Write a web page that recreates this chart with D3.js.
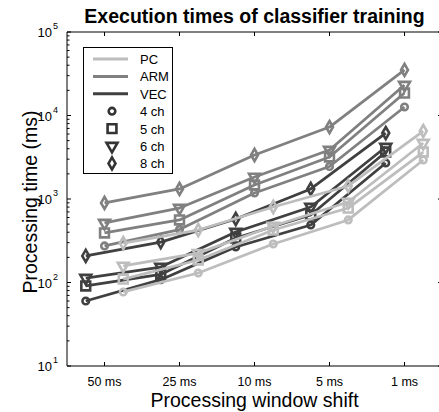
<!DOCTYPE html>
<html>
<head>
<meta charset="utf-8">
<script src="https://cdn.jsdelivr.net/npm/d3@7"></script>
<style>
  body { margin: 0; background: #fff; }
  text { font-family: "Liberation Sans", Arial, sans-serif; fill: #000; }
</style>
</head>
<body>
<svg id="chart"></svg>
<script>
// Categories (x axis)
const categories = ["50 ms", "25 ms", "10 ms", "5 ms", "1 ms"];
const channels = ["4 ch", "5 ch", "6 ch", "8 ch"];

// Execution times (ms), one array per platform / channel count
const pc4 = [77, 130, 289, 561, 2931];
const pc5 = [110, 186, 425, 780, 3654];
const pc6 = [158, 225, 475, 920, 4686];
const pc8 = [297, 425, 802, 1432, 6520];

const arm4 = [274, 430, 1180, 2450, 12640];
const arm5 = [392, 561, 1471, 3184, 18590];
const arm6 = [516, 780, 1835, 3862, 23190];
const arm8 = [896, 1318, 3365, 7280, 35080];

const vec4 = [60, 108, 266, 488, 2698];
const vec5 = [91, 125, 341, 643, 3654];
const vec6 = [113, 153, 402, 802, 4196];
const vec8 = [208, 305, 576, 1318, 6170];

const yTicks = [10, 100, 1000, 10000, 100000];

// platforms: shifted left/right of the category so markers don't overlap
const platforms = [
    { name: "VEC", color: "#404040", shift: -0.25, series: [vec4, vec5, vec6, vec8] },
    { name: "ARM", color: "#808080", shift: 0, series: [arm4, arm5, arm6, arm8] },
    { name: "PC", color: "#bdbdbd", shift: 0.25, series: [pc4, pc5, pc6, pc8] }
];

const width = 439;
const height = 412;
const margin = { top: 32, left: 67, bottom: 46 };

const svg = d3.select("#chart")
    .attr("width", width)
    .attr("height", height);

const x = d3.scaleLinear()
    .domain([0.5, categories.length + 0.5])
    .range([margin.left, 442]);

const y = d3.scaleLog()
    .domain([10, 100000])
    .range([height - margin.bottom, margin.top]);

const x0 = x.range()[0], x1 = x.range()[1];
const yB = y.range()[0], yT = y.range()[1];

// marker symbols per channel count
const symbols = [
    { type: d3.symbolCircle, size: 34, rot: 0 },
    { type: d3.symbolSquare, size: 78, rot: 0 },
    { type: d3.symbolTriangle, size: 52, rot: 180 },
    { type: d3.symbolDiamond, size: 42, rot: 0 }
];

// Title
svg.append("text")
    .attr("x", (x0 + x1) / 2)
    .attr("y", 23)
    .attr("text-anchor", "middle")
    .style("font-size", "19.5px")
    .style("font-weight", "bold")
    .text("Execution times of classifier training");

// Axis frame
const frame = svg.append("g").attr("stroke", "#000").attr("stroke-width", 1).attr("fill", "none");
frame.append("path").attr("d", `M${x0},${yT}H${x1}V${yB}H${x0}Z`);

// x ticks (inward, top and bottom)
categories.forEach((c, i) => {
    const px = x(i + 1);
    frame.append("line").attr("x1", px).attr("x2", px).attr("y1", yB).attr("y2", yB - 4);
    frame.append("line").attr("x1", px).attr("x2", px).attr("y1", yT).attr("y2", yT + 4);
    svg.append("text")
        .attr("x", px)
        .attr("y", 386)
        .attr("text-anchor", "middle")
        .style("font-size", "12.5px")
        .text(c);
});

// y ticks: majors + log minors
for (let e = 1; e <= 5; e++) {
    const base = Math.pow(10, e);
    const py = y(base);
    frame.append("line").attr("x1", x0).attr("x2", x0 + 4).attr("y1", py).attr("y2", py);
    frame.append("line").attr("x1", x1).attr("x2", x1 - 4).attr("y1", py).attr("y2", py);
    if (e < 5) {
        for (let m = 2; m <= 9; m++) {
            const my = y(base * m);
            frame.append("line").attr("x1", x0).attr("x2", x0 + 2.5).attr("y1", my).attr("y2", my);
            frame.append("line").attr("x1", x1).attr("x2", x1 - 2.5).attr("y1", my).attr("y2", my);
        }
    }
}
yTicks.forEach(t => {
    svg.append("text")
        .attr("x", 52)
        .attr("y", y(t) + 5)
        .attr("text-anchor", "end")
        .style("font-size", "13px")
        .text("10");
    svg.append("text")
        .attr("x", 53)
        .attr("y", y(t) - 3)
        .style("font-size", "9px")
        .text(Math.round(Math.log10(t)));
});

// Axis labels
svg.append("text")
    .attr("x", (x0 + x1) / 2)
    .attr("y", 407)
    .attr("text-anchor", "middle")
    .style("font-size", "19.5px")
    .text("Processing window shift");

svg.append("text")
    .attr("transform", `translate(37,${(yT + yB) / 2 + 3}) rotate(-90)`)
    .attr("text-anchor", "middle")
    .style("font-size", "19.5px")
    .text("Processing time (ms)");

// Lines and markers
const line = d3.line();
const plot = svg.append("g");

platforms.forEach(p => {
    p.series.forEach((vals, si) => {
        const pts = vals.map((v, i) => [x(i + 1 + p.shift), y(v)]);
        plot.append("path")
            .attr("d", line(pts))
            .attr("fill", "none")
            .attr("stroke", p.color)
            .attr("stroke-width", 2.8)
            .attr("stroke-linejoin", "round");
        const sym = symbols[si];
        plot.selectAll(null)
            .data(pts)
            .join("path")
            .attr("transform", d => `translate(${d[0]},${d[1]}) rotate(${sym.rot})`)
            .attr("d", d3.symbol().type(sym.type).size(sym.size))
            .attr("fill", "none")
            .attr("stroke", p.color)
            .attr("stroke-width", 2.6);
    });
});

// Legend
const legend = svg.append("g");
legend.append("rect")
    .attr("x", 83.5).attr("y", 47.5)
    .attr("width", 89).attr("height", 126)
    .attr("fill", "#fff").attr("stroke", "#000");

const rowY = i => 59 + i * 17.4;
[...platforms].reverse().forEach((p, i) => {
    legend.append("line")
        .attr("x1", 93).attr("x2", 128)
        .attr("y1", rowY(i)).attr("y2", rowY(i))
        .attr("stroke", p.color).attr("stroke-width", 3);
    legend.append("text")
        .attr("x", 140).attr("y", rowY(i) + 5)
        .style("font-size", "13px")
        .text(p.name);
});
channels.forEach((c, j) => {
    const i = j + 3;
    const sym = symbols[j];
    legend.append("path")
        .attr("transform", `translate(112,${rowY(i)}) rotate(${sym.rot})`)
        .attr("d", d3.symbol().type(sym.type).size(sym.size))
        .attr("fill", "none")
        .attr("stroke", "#333")
        .attr("stroke-width", 2.6);
    legend.append("text")
        .attr("x", 140).attr("y", rowY(i) + 5)
        .style("font-size", "13px")
        .text(c);
});
</script>
</body>
</html>
